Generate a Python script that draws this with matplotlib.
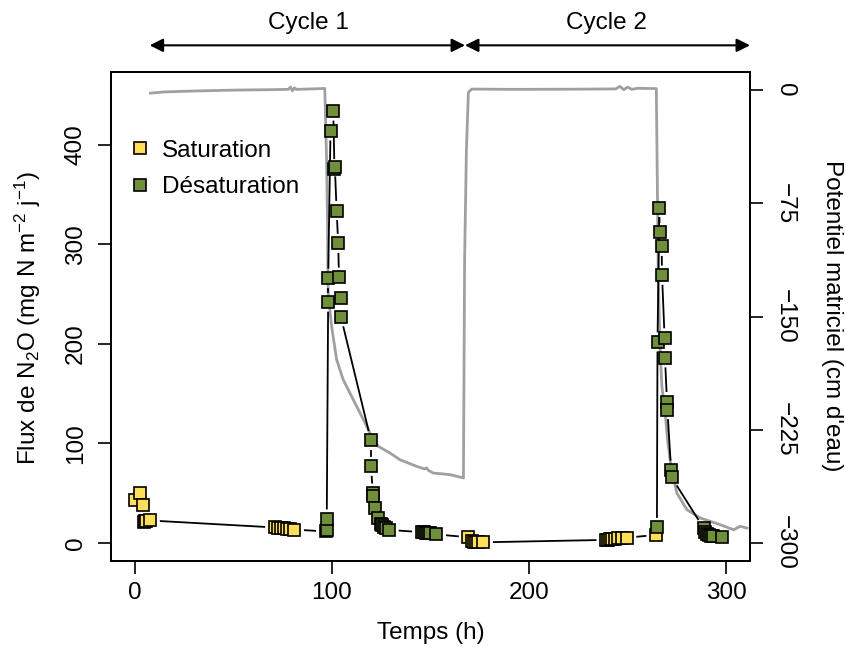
import numpy as np
import matplotlib
matplotlib.use('Agg')
import matplotlib.pyplot as plt
from matplotlib.lines import Line2D

plt.rcParams['font.family'] = ['Liberation Sans', 'DejaVu Sans']
plt.rcParams['mathtext.fontset'] = 'custom'
plt.rcParams['mathtext.rm'] = 'Liberation Sans'
plt.rcParams['mathtext.it'] = 'Liberation Sans:italic'
plt.rcParams['mathtext.default'] = 'regular'

# --- flux de N2O (points, dans l'ordre du temps) ---
temps = [0, 2.5, 4.2, 4.6, 5.1, 5.6, 7.9,
         71, 72.5, 74, 75.5, 77, 79, 81,
         96.8, 97.3, 97.4, 98.1, 98.1, 99.3, 100.7, 101.3, 101.5, 102.4, 103.2,
         103.6, 104.4, 104.6, 119.8, 119.8, 120.8, 121.0, 121.8, 123.2,
         124.8, 125.5, 126.3, 127.3, 129.0,
         145.5, 146.5, 147.5, 148.5, 149.5, 153.0,
         169.2, 171, 172, 173, 174, 176.8,
         239, 240, 241, 242, 243.5, 245, 247, 249.5,
         264.3, 264.8, 265.1, 266.0, 266.2, 267.2, 267.4, 268.7, 268.9, 269.9,
         270.1, 272.0, 272.2,
         288.5, 289, 290, 291, 292, 293, 297.8]
flux = [43, 50, 38, 21, 21.5, 22, 22.5,
        15.5, 15, 14.8, 14.5, 14.2, 13.8, 13.4,
        11.5, 13, 24, 242, 266, 414, 434, 376, 378, 334, 301,
        267, 246, 227, 103, 77, 50, 47, 35, 25.5,
        19, 17.5, 16.4, 15, 13,
        10.8, 10.5, 10.2, 10, 9.7, 8.5,
        5.7, 1.5, 1.0, 0.8, 0.7, 0.6,
        3, 3.3, 3.6, 3.9, 4.2, 4.5, 4.8, 5.2,
        8, 15.5, 202, 337, 312, 298, 269, 206, 186, 142,
        134, 73, 66,
        14.8, 11.4, 9, 7.5, 7, 6.5, 6.3]
# 0 = saturation, 1 = désaturation
phase = [0] * 14 + [1] * 31 + [0] * 14 + [0] + [1] * 19

# --- potentiel matriciel (ligne grise) ---
t_pot = [8, 15, 30, 50, 70, 78, 79, 80, 81, 82, 90, 96.4, 97.3, 97.8, 98.1,
         99.8, 102.4, 105.7, 109.1, 113.4, 116.8, 120.1, 123.5, 129.4, 134.5,
         143, 147, 148, 149, 151.4, 160, 166.7, 167.3, 168.2, 169.2, 170.9,
         190, 220, 244, 246, 248, 250, 252, 255, 264.5, 265.0, 265.5, 266.5,
         267.3, 269, 270.2, 271.9, 274.9, 280, 286.8, 297, 303.7, 307, 310.5]
pot = [-2, -1.2, -0.6, 0, 0.3, 0.5, 2, -0.5, 1.5, 0.5, 0.8, 1.1, -45.8, -90, -134,
       -156, -178.5, -191.8, -200.6, -211.7, -220.5, -229.4, -236, -240.4, -244.9,
       -249.3, -251, -250.3, -252, -253.7, -254.8, -257, -112, -40, -1.5, 0.7,
       0.5, 0.6, 0.8, 2.5, 0.3, 2, 0.5, 1.2, 1, -60, -125, -174,
       -196, -214, -231.6, -249.3, -267, -278, -283.5, -288, -291.3, -289, -290.2]

couleurs = ['#FFDF5A', '#6F8F3A']
noms = ['Saturation', 'Désaturation']

FS = 17.5

fig = plt.figure(figsize=(8.46, 6.47), dpi=100)
ax = fig.add_axes([111 / 846, 1 - 561 / 647, 639 / 846, 489 / 647])
ax2 = ax.twinx()
ax.set_zorder(ax2.get_zorder() + 1)
ax.patch.set_visible(False)

ax.set_xlim(-12, 312)
ax.set_ylim(-18.2, 473.2)
ax2.set_ylim(-312, 12)

# ligne grise
ax2.plot(t_pot, pot, color='#a0a0a0', lw=2.0, solid_joinstyle='round')

# ligne type "b" (segments avec espace autour des points)
gap = 10.5
pts = ax.transData.transform(np.column_stack([temps, flux]))
inv = ax.transData.inverted()
for p0, p1 in zip(pts[:-1], pts[1:]):
    d = p1 - p0
    L = np.hypot(*d)
    if L <= 2 * gap:
        continue
    u = d / L
    a = inv.transform(p0 + u * gap)
    b = inv.transform(p1 - u * gap)
    ax.plot([a[0], b[0]], [a[1], b[1]], color='black', lw=1.3)

for t, f, ph in zip(temps, flux, phase):
    ax.plot(t, f, marker='s', ms=8.4, mfc=couleurs[ph], mec='black', mew=1.2,
            ls='none')

# axes
ax.set_xticks([0, 100, 200, 300])
ax.set_yticks([0, 100, 200, 300, 400])
ax2.set_yticks([0, -75, -150, -225, -300])
ax.tick_params(axis='both', length=9.4, width=1.2, labelsize=FS, pad=6)
ax.tick_params(axis='y', pad=8)
for lab in ax.get_yticklabels():
    lab.set_rotation(90)
    lab.set_va('center')
ax2.tick_params(axis='y', length=9.4, width=1.2, labelsize=FS, pad=8)
for lab in ax2.get_yticklabels():
    lab.set_rotation(270)
    lab.set_va('center')
for sp in ax.spines.values():
    sp.set_linewidth(1.3)
for sp in ax2.spines.values():
    sp.set_linewidth(1.3)

fig.text(431 / 846, 1 - 633 / 647, 'Temps (h)', ha='center', va='center', fontsize=FS)
fig.text(28 / 846, 1 - 318 / 647, 'Flux de N$_2$O (mg N m$^{-2}$ j$^{-1}$)',
         ha='center', va='center', rotation=90, fontsize=FS)
fig.text(832 / 846, 1 - 316 / 647, "Potentiel matriciel (cm d'eau)",
         ha='center', va='center', rotation=270, fontsize=FS)

# légende
handles = [Line2D([], [], marker='s', ms=8.4, mfc=c, mec='black', mew=1.2, ls='none')
           for c in couleurs]
ax.legend(handles, noms, loc='upper left', bbox_to_anchor=(0.0, 0.896), frameon=False,
          fontsize=FS, handlelength=1.0, handletextpad=0.4, labelspacing=0.6,
          borderaxespad=0.3)

# cycles
ya = 500
ax.annotate('', xy=(7.6, ya), xytext=(167.5, ya), annotation_clip=False,
            arrowprops=dict(arrowstyle='<|-|>', color='black', lw=1.5,
                            mutation_scale=20, shrinkA=0, shrinkB=0))
ax.annotate('', xy=(167.5, ya), xytext=(312, ya), annotation_clip=False,
            arrowprops=dict(arrowstyle='<|-|>', color='black', lw=1.5,
                            mutation_scale=20, shrinkA=0, shrinkB=0))
ax.text(88, 522, 'Cycle 1', ha='center', va='center', fontsize=FS, clip_on=False)
ax.text(239, 522, 'Cycle 2', ha='center', va='center', fontsize=FS, clip_on=False)

fig.savefig('out.png', dpi=100)
